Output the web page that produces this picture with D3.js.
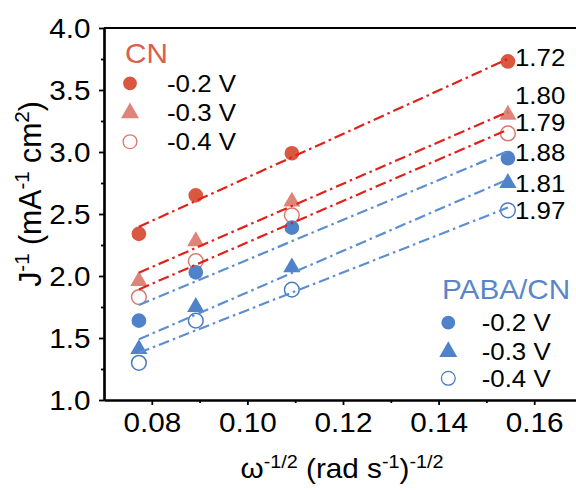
<!DOCTYPE html>
<html>
<head>
<meta charset="utf-8">
<script src="https://cdn.jsdelivr.net/npm/d3@7"></script>
<style>
  html, body { margin: 0; padding: 0; background: #fff; }
  svg { display: block; font-family: "Liberation Sans", Arial, sans-serif; }
</style>
</head>
<body>
<svg id="chart" width="576" height="491"></svg>
<script>
// omega^-1/2 for 1600, 1200, 800, 400 rpm
const xVals = [0.0773, 0.0892, 0.1093, 0.1545];

const cn02 = [2.34, 2.65, 2.99, 3.73];
const cn03 = [1.96, 2.28, 2.60, 3.30];
const cn04 = [1.83, 2.12, 2.49, 3.15];
const paba02 = [1.64, 2.03, 2.39, 2.95];
const paba03 = [1.41, 1.75, 2.07, 2.75];
const paba04 = [1.30, 1.64, 1.89, 2.53];

const potentials = ["-0.2 V", "-0.3 V", "-0.4 V"];
const groups = ["CN", "PABA/CN"];
const nLabels = ["1.72", "1.80", "1.79", "1.88", "1.81", "1.97"];
// where each n label sits (in y units)
const nLabelY = [3.69, 3.39, 3.17, 2.93, 2.675, 2.46];

const xTicks = [0.08, 0.10, 0.12, 0.14, 0.16];
const yTicks = [1.0, 1.5, 2.0, 2.5, 3.0, 3.5, 4.0];

const series = [
  { group: 0, name: potentials[0], values: cn02, shape: "circle", fill: "#d9583f", stroke: "none", line: "#e1211c" },
  { group: 0, name: potentials[1], values: cn03, shape: "triangle", fill: "#df8479", stroke: "none", line: "#e1211c" },
  { group: 0, name: potentials[2], values: cn04, shape: "circle", fill: "none", stroke: "#d8796d", line: "#e1211c" },
  { group: 1, name: potentials[0], values: paba02, shape: "circle", fill: "#4f82c9", stroke: "none", line: "#5d8fd0" },
  { group: 1, name: potentials[1], values: paba03, shape: "triangle", fill: "#4f82c9", stroke: "none", line: "#5d8fd0" },
  { group: 1, name: potentials[2], values: paba04, shape: "circle", fill: "none", stroke: "#4a7cc2", line: "#5d8fd0" },
];
const groupColors = ["#d9604c", "#5a86c8"];

const margin = { top: 28, left: 104 },
  width = 478,
  height = 372;

const x = d3.scaleLinear().domain([0.07, 0.17]).range([margin.left, margin.left + width]);
const y = d3.scaleLinear().domain([1, 4]).range([margin.top + height, margin.top]);

const svg = d3.select("#chart");
const stretch = "scale(1.1,1)";

function symbolPath(shape, small) {
  if (shape === "triangle") return d3.symbol(d3.symbolTriangle, small ? 140 : 128)();
  return d3.symbol(d3.symbolCircle, small ? 150 : 170)();
}

// least squares line for each series
function fit(vals) {
  const mx = d3.mean(xVals), my = d3.mean(vals);
  let sxy = 0, sxx = 0;
  xVals.forEach((xv, i) => {
    sxy += (xv - mx) * (vals[i] - my);
    sxx += (xv - mx) * (xv - mx);
  });
  const b = sxy / sxx;
  return [xVals[0], xVals[xVals.length - 1]].map((xv) => ({ x: xv, y: my + b * (xv - mx) }));
}

// markers
series.forEach((s) => {
  svg.append("g")
    .selectAll("path")
    .data(s.values)
    .join("path")
    .attr("d", symbolPath(s.shape))
    .attr("transform", (d, i) => "translate(" + x(xVals[i]) + "," + y(d) + ")")
    .attr("fill", s.fill)
    .attr("stroke", s.stroke)
    .attr("stroke-width", 1.5);
});

// fit lines
const line = d3.line().x((d) => x(d.x)).y((d) => y(d.y));
series.forEach((s) => {
  svg.append("path")
    .datum(fit(s.values))
    .attr("d", line)
    .attr("fill", "none")
    .attr("stroke", s.line)
    .attr("stroke-width", 2.2)
    .attr("stroke-dasharray", "11,4,2.5,4");
});

// axes
const xAxis = svg.append("g")
  .attr("transform", "translate(0," + (margin.top + height) + ")")
  .call(d3.axisBottom(x).tickValues(xTicks).tickFormat(d3.format(".2f")).tickSize(5).tickSizeOuter(0));
svg.append("g")
  .attr("transform", "translate(0," + (margin.top + height) + ")")
  .call(d3.axisBottom(x).tickValues([0.09, 0.11, 0.13, 0.15]).tickFormat("").tickSize(3).tickSizeOuter(0));

const yAxis = svg.append("g")
  .attr("transform", "translate(" + margin.left + ",0)")
  .call(d3.axisLeft(y).tickValues(yTicks).tickFormat(d3.format(".1f")).tickSize(5).tickSizeOuter(0));
svg.append("g")
  .attr("transform", "translate(" + margin.left + ",0)")
  .call(d3.axisLeft(y).tickValues([1.25, 1.75, 2.25, 2.75, 3.25, 3.75]).tickFormat("").tickSize(3).tickSizeOuter(0));

svg.selectAll(".domain").attr("stroke", "#000").attr("stroke-width", 2.2);
svg.selectAll(".tick line").attr("stroke", "#000").attr("stroke-width", 1.8);

xAxis.selectAll(".tick text")
  .attr("y", 32.5).attr("dy", null)
  .attr("font-size", 27).attr("fill", "#000")
  .attr("font-family", "Liberation Sans, Arial, sans-serif")
  .attr("transform", stretch);
yAxis.selectAll(".tick text")
  .attr("x", -12.2).attr("dy", "0.35em")
  .attr("font-size", 27).attr("fill", "#000")
  .attr("font-family", "Liberation Sans, Arial, sans-serif")
  .attr("transform", stretch);

// top frame line
svg.append("line")
  .attr("x1", margin.left).attr("x2", margin.left + width)
  .attr("y1", margin.top).attr("y2", margin.top)
  .attr("stroke", "#000").attr("stroke-width", 2.2);

// axis titles
const xt = svg.append("text")
  .attr("transform", "translate(342,478) " + stretch)
  .attr("text-anchor", "middle")
  .attr("font-size", 27);
xt.append("tspan").text("ω");
xt.append("tspan").attr("dy", -10).attr("font-size", 18).text("-1/2");
xt.append("tspan").attr("dy", 10).text(" (rad s");
xt.append("tspan").attr("dy", -10).attr("font-size", 18).text("-1");
xt.append("tspan").attr("dy", 10).text(")");
xt.append("tspan").attr("dy", -10).attr("font-size", 18).text("-1/2");

const yt = svg.append("text")
  .attr("transform", "translate(41,194) rotate(-90) scale(1.08,1.1)")
  .attr("text-anchor", "middle")
  .attr("font-size", 28);
yt.append("tspan").text("J");
yt.append("tspan").attr("dy", -11).attr("font-size", 19).text("-1");
yt.append("tspan").attr("dy", 11).text(" (mA");
yt.append("tspan").attr("dy", -11).attr("font-size", 19).text("-1");
yt.append("tspan").attr("dy", 11).text(" cm");
yt.append("tspan").attr("dy", -11).attr("font-size", 19).text("2");
yt.append("tspan").attr("dy", 11).text(")");

// n labels at right
svg.append("g")
  .selectAll("text")
  .data(nLabels)
  .join("text")
  .attr("transform", (d, i) => "translate(515," + y(nLabelY[i]) + ") " + stretch)
  .attr("font-size", 23.5)
  .attr("fill", "#000")
  .text((d) => d);

// legends
const legendPos = [
  { tx: 125, ty: 62.5, mx: 130, my: [83.3, 113, 141.7], lx: 167 },
  { tx: 442, ty: 299.3, mx: 448.3, my: [322.7, 351.7, 378.3], lx: 481.7 },
];
groups.forEach((g, gi) => {
  const p = legendPos[gi];
  svg.append("text")
    .attr("transform", "translate(" + p.tx + "," + p.ty + ") " + stretch)
    .attr("font-size", 27)
    .attr("fill", groupColors[gi])
    .text(g);
  const items = series.filter((s) => s.group === gi);
  const lg = svg.append("g");
  lg.selectAll("path")
    .data(items)
    .join("path")
    .attr("d", (s) => symbolPath(s.shape, true))
    .attr("transform", (s, i) => "translate(" + p.mx + "," + p.my[i] + ")")
    .attr("fill", (s) => s.fill)
    .attr("stroke", (s) => s.stroke)
    .attr("stroke-width", 1.3);
  lg.selectAll("text")
    .data(items)
    .join("text")
    .attr("transform", (s, i) => "translate(" + p.lx + "," + p.my[i] + ") " + stretch)
    .attr("dy", "0.36em")
    .attr("font-size", 23.5)
    .attr("fill", "#000")
    .text((s) => s.name);
});
</script>
</body>
</html>
